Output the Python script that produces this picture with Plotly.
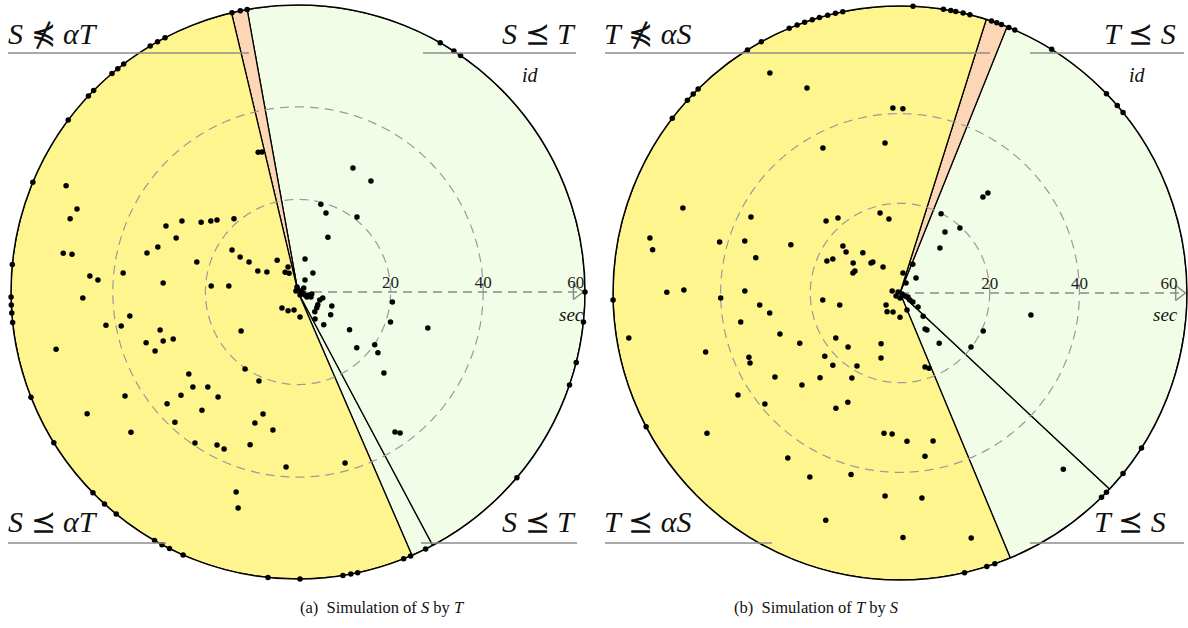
import numpy as np
import plotly.graph_objects as go

W, H = 1188, 628

YELLOW = "#FFF58F"
ORANGE = "#FDD7B5"
GREEN = "#F1FDE6"

# ---------------- data: left panel (Simulation of S by T) ----------------
left_rmax = 62.0
left_sector_start = [-66.6, -62.0, 100.2, 103.4]
left_sector_end = [-62.0, 100.2, 103.4, 293.4]
left_sector_color = [GREEN, GREEN, ORANGE, YELLOW]

# points lying on the outer circle (time-outs): angle only
left_out_theta = [103.3, 101.6, 100.2, 121.0, 119.3, 117.6, 130.4, 128.9, 127.4,
                  136.9, 135.4, 143.2, 157.5, 174.5, 181.0, 182.6, 184.2, 186.1,
                  201.5, 211.7, 224.4, 227.6, 230.7, 240.0, 241.7, 243.4, 246.4,
                  264.0, 270.4, 279.0, -79.4, -78.0, -68.4, -66.9, -63.6,
                  -40.3, -18.9, -14.2, -6.0, 0.0, 55.5, 57.1, 60.3]
# interior points: time (sec) and angle (deg)
left_in_r = [13.5, 8.2, 5.8, 5.1, 4.5, 7.3, 5.2, 3.0, 4.9, 4.6, 4.0, 5.4, 7.9, 8.6,
             5.3, 5.1, 5.6, 5.0, 5.5, 6.9, 9.0, 13.8, 17.5, 20.1, 20.5, 21.0,
             0.7, 0.7, 1.1, 1.6, 2.2, 0.8, 1.5, 2.4, 3.0, 1.1, 0.5, 3.0,
             31.4, 31.2, 55.1, 51.0, 51.7, 29.4, 31.9, 25.8, 24.3, 23.4, 21.0, 28.8,
             33.7, 31.8, 51.4, 49.5, 45.1, 43.3, 38.0, 22.8, 16.9, 14.6, 12.4, 9.8,
             8.0, 29.2, 18.8, 15.0, 42.1, 38.9, 36.7, 30.9, 31.0, 34.6, 33.4, 28.8,
             14.9, 46.5, 53.7, 29.5, 20.2, 21.0, 43.6, 28.3, 30.6, 33.7, 37.2, 28.5,
             32.9, 27.4, 29.8, 30.3, 52.6, 47.1, 38.7, 39.5, 37.4, 37.5, 34.6, 37.9,
             38.3, 45.2, 48.4,
             19.6, 18.1, 29.3, 28.7, 20.6, 21.7, 25.5, 36.8, 37.6, 29.1]
left_in_theta = [61.4, 123.3, 111.8, 123, 115.3, 78, 51.7, 59.7, 225, 242.2, 257.5,
                 -85.4, -22.4, -34.9, -40.1, -33, -49.6, -20, -13.5, -57.8, -51.8,
                 -36.2, -43.5, -34.5, -6, -17.9,
                 100, 18, -11, -23, -29, -56, 34, -15, -21, 101, 153, -8,
                 105.9, 104.4, 155.4, 159.4, 162.2, 148.5, 153.4, 144.2, 140.8, 138.4,
                 131.2, 156.1, 165.5, 162.2, 170.6, 170.5, 175.6, 176.6, 173.8, 163.5,
                 147.5, 148.9, 148.5, 152.3, 147.2, 176.2, 176.1, 175.0, 189.8, 190.9,
                 188.1, 195.4, 200.0, 198.5, 202.4, 200.6, 214.4, 181.6, 193.3, 216.9,
                 235.5, 246.3, 211.0, 226.5, 222.1, 221.4, 220.5, 232.7, 230.9, 254.0,
                 251.8, 259.7, 210.0, 220.0, 226.6, 235.7, 242.1, 244.8, 252.6, 266.1,
                 -74.6, 252.8, 254.5,
                 75.4, 70.5, 66.1, 56.7, 51.8, -37.3, -43.3, -55.3, -54.1, -15.5]

# ---------------- data: right panel (Simulation of T by S) ----------------
right_rmax = 64.0
right_sector_start = [-67.4, -43.1, 68.1, 72.5]
right_sector_end = [-43.1, 68.1, 72.5, 292.6]
right_sector_color = [GREEN, GREEN, ORANGE, YELLOW]

right_out_theta = [142.5, 137.8, 136.1, 134.7, 122.1, 118.9, 112.7, 111.0, 109.4,
                   107.8, 106.3, 104.6, 103.0, 101.5, 87.4, 81.3, 79.8, 78.8, 77.3,
                   75.9, 71.4, 70.3, 69.3, 67.7, 66.4, 58.1, 44.0, 40.8, 39.0,
                   -32.7, -39.0, -44.0, -45.4, -70.7, -72.4, -77.0,
                   181.4, 207.8]
right_in_r = [57.0, 50.2, 41.3, 41.1, 53.6, 56.9,
              36.6, 33.6, 52.0, 23.0, 21.7, 18.4, 16.7, 37.3, 57.1, 56.0, 41.8, 36.5,
              26.6, 16.5, 15.1, 33.1, 17.8, 16.8, 12.4, 11.2, 9.3, 9.2, 6.9, 12.2,
              11.4, 52.0, 48.2, 40.0, 34.6, 17.3, 13.7, 31.4, 29.4, 61.3, 36.1, 28.3,
              25.0, 17.5, 16.7, 12.1, 45.3, 36.6, 36.9, 21.9, 22.0, 18.9, 15.1, 17.4,
              18.0, 33.6, 30.0, 26.0, 21.8, 42.7, 39.0, 29.4, 27.0, 53.2, 31.5, 31.5,
              33.8, 33.1, 44.5, 36.8, 45.7, 41.9, 45.4, 46.0, 53.3, 54.5,
              13.4, 7.0, 4.5, 4.9, 2.6, 1.8, 0.5, 0.5, 1.3, 2.0, 1.1, 1.1, 2.7,
              4.1, 5.1, 4.5, 5.4, 4.1, 3.5, 5.1, 7.3, 9.8, 10.2, 14.2, 20.4, 19.9,
              29.7, 28.3, 19.9, 16.9, 19.7, 29.6]
right_in_theta = [120.6, 114.4, 92.2, 89.1, -47.2, -73.8,
                  118.0, 95.7, 158.6, 135.8, 129.6, 104.0, 98.5, 153.0, 167.6, 170.1,
                  164.2, 161.5, 156.2, 140.5, 142.8, 166.3, 156.3, 153.1, 147.4, 153.9,
                  134.0, 131.1, 123.2, 132.8, 157.0, 179.8, 179.2, 181.6, 179.3, 185.2,
                  191.3, 184.9, 188.7, 189.4, 190.3, 198.9, 206.6, 215.1, 226.1, 249.6,
                  196.9, 203.0, 205.0, 220.0, 227.1, 239.5, 253.7, -71.3, -68.9, 213.9,
                  223.2, 226.7, 240.5, 212.2, 219.4, 240.9, 244.5, 216.0, 263.5, 266.8,
                  -77.4, -87.3, 235.8, -81.3, 243.9, 254.9, 265.8, -83.9, 251.9, -89.3,
                  48.4, 66.0, 81.5, 43.2, 59.0, 166.0, 150.0, -26.0, -31.0, -27.0, -90.0,
                  217.0, -35.0,
                  220.6, 235.6, 249.8, 270.0, -67.6, -34.7, -37.9, -45.0, -55.2, -53.9,
                  -52.0, -24.6, -37.3,
                  48.7, 49.2, 62.6, 53.6, 47.3, -9.5]

fig = go.Figure()


def panel(name, starts, ends, colors, rmax, out_theta, in_r, in_theta):
    starts = np.array(starts)
    ends = np.array(ends)
    fig.add_trace(go.Barpolar(
        r=[rmax] * len(starts), theta=(starts + ends) / 2, width=ends - starts,
        base=0, marker=dict(color=colors, line=dict(color="black", width=1.3)),
        subplot=name, showlegend=False, hoverinfo="skip"))
    ang = np.linspace(0, 360, 361)
    for rr in (20, 40):
        fig.add_trace(go.Scatterpolar(
            r=[rr] * len(ang), theta=ang, mode="lines", subplot=name,
            line=dict(color="#9a9a9a", width=1.2, dash="9px,6px"),
            showlegend=False, hoverinfo="skip"))
    fig.add_trace(go.Scatterpolar(
        r=[0, rmax - 1.2], theta=[0, 0], mode="lines", subplot=name,
        line=dict(color="#8a8a8a", width=1.5, dash="9px,6px"),
        showlegend=False, hoverinfo="skip"))
    fig.add_trace(go.Scatterpolar(
        r=[rmax - 1.8], theta=[0], mode="markers", subplot=name,
        marker=dict(symbol="triangle-right-open", size=13, color="#8a8a8a",
                    line=dict(width=1.5)),
        showlegend=False, hoverinfo="skip", cliponaxis=False))
    fig.add_trace(go.Scatterpolar(
        r=[20, 40, 60], theta=[0, 0, 0], mode="text", text=["20", "40", "60"],
        textposition="top center", subplot=name,
        textfont=dict(family="Liberation Serif, DejaVu Serif", size=17, color="#222"),
        showlegend=False, hoverinfo="skip", cliponaxis=False))
    fig.add_trace(go.Scatterpolar(
        r=list(in_r) + [rmax] * len(out_theta), theta=list(in_theta) + list(out_theta),
        mode="markers", subplot=name,
        marker=dict(color="black", size=5.5), cliponaxis=False,
        showlegend=False, hoverinfo="skip"))


panel("polar", left_sector_start, left_sector_end, left_sector_color, left_rmax,
      left_out_theta, left_in_r, left_in_theta)
panel("polar2", right_sector_start, right_sector_end, right_sector_color, right_rmax,
      right_out_theta, right_in_r, right_in_theta)


def polar_layout(cx, cy, rad, rmax):
    return dict(
        domain=dict(x=[(cx - rad) / W, (cx + rad) / W],
                    y=[1 - (cy + rad) / H, 1 - (cy - rad) / H]),
        bgcolor="rgba(0,0,0,0)",
        radialaxis=dict(range=[0, rmax], visible=False),
        angularaxis=dict(rotation=0, direction="counterclockwise", showgrid=False,
                         showticklabels=False, ticks="", linecolor="black",
                         linewidth=1.5, showline=True),
    )


fig.update_layout(
    width=W, height=H, margin=dict(l=0, r=0, t=0, b=0),
    paper_bgcolor="white", plot_bgcolor="white",
    polar=polar_layout(298, 292, 287, left_rmax),
    polar2=polar_layout(900, 293, 287, right_rmax),
)

MATH = "Liberation Serif, DejaVu Serif"


def px_ann(x, y, text, size=30, xanchor="left"):
    fig.add_annotation(x=x / W, y=1 - y / H, xref="paper", yref="paper", text=text,
                       showarrow=False, xanchor=xanchor, yanchor="middle",
                       font=dict(family=MATH, size=size, color="#111"))


def hline(x0, x1, y):
    fig.add_shape(type="line", xref="paper", yref="paper", x0=x0 / W, x1=x1 / W,
                  y0=1 - y / H, y1=1 - y / H, line=dict(color="#8c8c8c", width=1.6),
                  layer="above")


# left panel labels
px_ann(6, 33, "<i>S</i> ⋠ <i>αT</i>")
px_ann(578, 33, "<i>S</i> ⪯ <i>T</i>", xanchor="right")
px_ann(530, 75, "<i>id</i>", size=20, xanchor="center")
px_ann(6, 521, "<i>S</i> ⪯ <i>αT</i>")
px_ann(578, 521, "<i>S</i> ⪯ <i>T</i>", xanchor="right")
px_ann(571, 314, "<i>sec</i>", size=19, xanchor="center")
hline(8, 249, 53)
hline(423, 576, 53)
hline(8, 166, 543)
hline(421, 577, 543)

# right panel labels
px_ann(602, 33, "<i>T</i> ⋠ <i>αS</i>")
px_ann(1178, 33, "<i>T</i> ⪯ <i>S</i>", xanchor="right")
px_ann(1137, 75, "<i>id</i>", size=20, xanchor="center")
px_ann(602, 521, "<i>T</i> ⪯ <i>αS</i>")
px_ann(1168, 521, "<i>T</i> ⪯ <i>S</i>", xanchor="right")
px_ann(1165, 314, "<i>sec</i>", size=19, xanchor="center")
hline(605, 990, 53)
hline(1030, 1184, 53)
hline(605, 772, 543)
hline(1030, 1184, 543)

# captions
for cx, txt in ((298, "(a)  Simulation of <i>S</i> by <i>T</i>"),
                (900, "(b)  Simulation of <i>T</i> by <i>S</i>")):
    fig.add_annotation(x=cx / W, y=1 - 607 / H, xref="paper", yref="paper",
                       text=txt, showarrow=False, yanchor="middle",
                       font=dict(family="Liberation Serif", size=16.5, color="#111"))

fig.write_html("out.html", config={"displayModeBar": False},
               post_script="document.body.style.margin='0px';"
                           "document.body.style.overflow='hidden';")
